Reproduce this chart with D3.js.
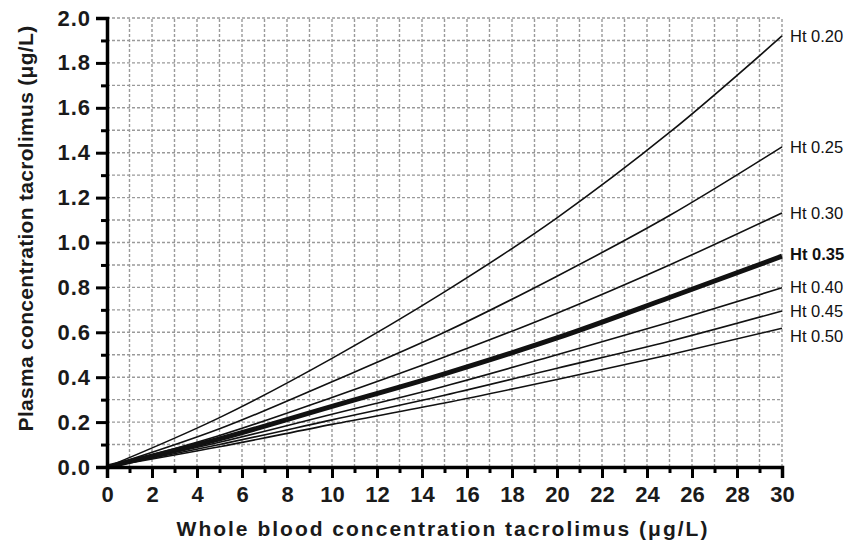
<!DOCTYPE html>
<html>
<head>
<meta charset="utf-8">
<script src="https://cdn.jsdelivr.net/npm/d3@7"></script>
<style>
  body { margin: 0; background: #fff; }
  svg { display: block; font-family: "Liberation Sans", Arial, sans-serif; }
</style>
</head>
<body>
<svg id="chart"></svg>
<script>
width = 861;
height = 543;
margin = ({ top: 18, right: 79, bottom: 76, left: 107 });

// whole blood concentration (x) where values were read
const bloodConc = [0, 5, 10, 15, 20, 25, 30];

// hematocrit series, plasma concentration read at bloodConc
const hematocrits = ["0.20", "0.25", "0.30", "0.35", "0.40", "0.45", "0.50"];
const ht020 = [0, 0.22, 0.484, 0.78, 1.11, 1.49, 1.92];
const ht025 = [0, 0.17, 0.38, 0.60, 0.85, 1.12, 1.426];
const ht030 = [0, 0.14, 0.31, 0.49, 0.685, 0.90, 1.132];
const ht035 = [0, 0.125, 0.27, 0.415, 0.575, 0.755, 0.939];
const ht040 = [0, 0.11, 0.235, 0.36, 0.50, 0.645, 0.798];
const ht045 = [0, 0.10, 0.21, 0.32, 0.44, 0.56, 0.695];
const ht050 = [0, 0.09, 0.19, 0.285, 0.39, 0.50, 0.618];

const xTicks = d3.range(0, 31, 2);
const yTicks = d3.range(0, 2.01, 0.2);

const seriesValues = [ht020, ht025, ht030, ht035, ht040, ht045, ht050];
// label vertical nudge (px) so the bottom labels don't collide
const labelShift = [0, 0, 0, -2, -1, 0, 8];

const svg = d3.select("#chart")
    .attr("width", width)
    .attr("height", height)
    .attr("viewBox", [0, 0, width, height]);

x = d3.scaleLinear()
    .domain([0, 30])
    .range([margin.left, width - margin.right]);

y = d3.scaleLinear()
    .domain([0, 2])
    .range([height - margin.bottom, margin.top]);

// dashed grid
const grid = svg.append("g")
    .attr("stroke", "#9a9a9a")
    .attr("stroke-width", 1.4)
    .attr("stroke-dasharray", "3,2");

grid.selectAll("line.v")
    .data(d3.range(1, 31))
    .join("line")
    .attr("x1", d => x(d)).attr("x2", d => x(d))
    .attr("y1", y(0)).attr("y2", y(2));

grid.selectAll("line.h")
    .data(d3.range(1, 21).map(d => d / 10))
    .join("line")
    .attr("x1", x(0)).attr("x2", x(30))
    .attr("y1", d => y(d)).attr("y2", d => y(d));

// curves
const line = d3.line()
    .x((d, i) => x(bloodConc[i]))
    .y(d => y(d))
    .curve(d3.curveMonotoneX);

svg.append("g")
    .attr("fill", "none")
    .attr("stroke", "#111")
    .selectAll("path")
    .data(seriesValues)
    .join("path")
    .attr("stroke-width", (d, i) => hematocrits[i] === "0.35" ? 5 : 1.6)
    .attr("d", line);

svg.append("g")
    .selectAll("text")
    .data(seriesValues)
    .join("text")
    .attr("x", x(30) + 8)
    .attr("y", (d, i) => y(d[d.length - 1]) + labelShift[i])
    .attr("dy", "0.35em")
    .attr("font-size", 16.5)
    .attr("font-weight", (d, i) => hematocrits[i] === "0.35" ? "bold" : "normal")
    .attr("fill", "#111")
    .text((d, i) => "Ht " + hematocrits[i]);

// axes
xAxis = g => g
    .attr("transform", `translate(0, ${y(0)})`)
    .call(d3.axisBottom(x).tickValues(xTicks).tickSize(11).tickPadding(8).tickFormat(d3.format("d")))
    .call(g => g.selectAll(".tick line").attr("stroke-width", 3))
    .call(g => g.select(".domain").attr("stroke-width", 3.5))
    .call(g => g.selectAll(".tick text")
        .attr("font-size", 22).attr("font-weight", "bold").attr("fill", "#1a1a1a")
        .attr("font-family", "Liberation Sans, Arial, sans-serif"));

xMinor = g => g
    .attr("transform", `translate(0, ${y(0)})`)
    .call(d3.axisBottom(x).tickValues(d3.range(1, 30, 2)).tickSize(6).tickFormat(""))
    .call(g => g.selectAll(".tick line").attr("stroke-width", 3))
    .call(g => g.select(".domain").remove());

yAxis = g => g
    .attr("transform", `translate(${x(0)}, 0)`)
    .call(d3.axisLeft(y).tickValues(yTicks).tickSize(11).tickPadding(5).tickFormat(d3.format(".1f")))
    .call(g => g.selectAll(".tick line").attr("stroke-width", 3))
    .call(g => g.select(".domain").attr("stroke-width", 3.5))
    .call(g => g.selectAll(".tick text")
        .attr("font-size", 22).attr("font-weight", "bold").attr("fill", "#1a1a1a")
        .attr("letter-spacing", 1)
        .attr("font-family", "Liberation Sans, Arial, sans-serif"));

yMinor = g => g
    .attr("transform", `translate(${x(0)}, 0)`)
    .call(d3.axisLeft(y).tickValues(d3.range(1, 20, 2).map(d => d / 10)).tickSize(6).tickFormat(""))
    .call(g => g.selectAll(".tick line").attr("stroke-width", 3))
    .call(g => g.select(".domain").remove());

svg.append("g").call(xMinor);
svg.append("g").call(yMinor);
svg.append("g").call(xAxis);
svg.append("g").call(yAxis);

// axis titles
svg.append("text")
    .attr("x", 443)
    .attr("y", 536)
    .attr("text-anchor", "middle")
    .attr("font-size", 21)
    .attr("font-weight", "bold")
    .attr("letter-spacing", 2)
    .attr("fill", "#1a1a1a")
    .text("Whole blood concentration tacrolimus (μg/L)");

svg.append("text")
    .attr("transform", `translate(33, ${(y(0) + y(2)) / 2 - 14}) rotate(-90)`)
    .attr("text-anchor", "middle")
    .attr("font-size", 21)
    .attr("font-weight", "bold")
    .attr("letter-spacing", 0.3)
    .attr("fill", "#1a1a1a")
    .text("Plasma concentration tacrolimus (μg/L)");
</script>
</body>
</html>
